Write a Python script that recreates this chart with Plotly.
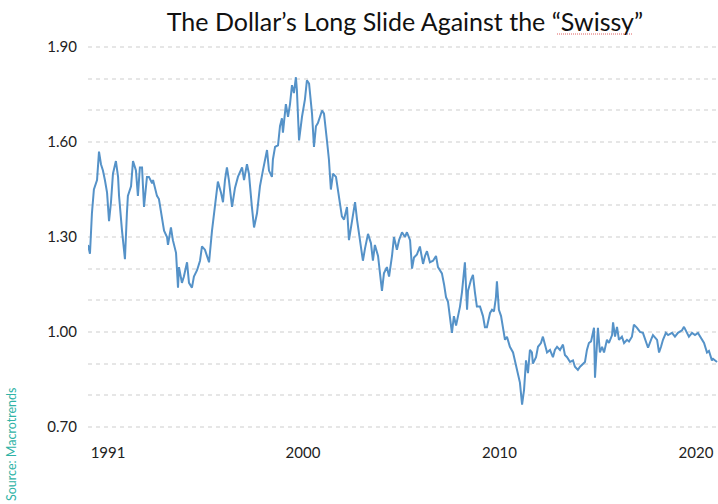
import plotly.graph_objects as go

# Decimal-year positions and USD/CHF values
years = [
    1989.06, 1989.16, 1989.26, 1989.36, 1989.52, 1989.62, 1989.72, 1989.82, 1989.92, 1990.03,
    1990.13, 1990.23, 1990.33, 1990.48, 1990.59, 1990.64, 1990.79, 1990.89, 1990.94, 1991.04,
    1991.09, 1991.25, 1991.35, 1991.50, 1991.60, 1991.70, 1991.81, 1991.91, 1992.06, 1992.16,
    1992.32, 1992.37, 1992.57, 1992.67, 1992.82, 1992.93, 1993.08, 1993.13, 1993.28, 1993.38,
    1993.54, 1993.64, 1993.69, 1993.84, 1993.94, 1994.10, 1994.20, 1994.35, 1994.45, 1994.61,
    1994.76, 1994.86, 1995.01, 1995.11, 1995.22, 1995.37, 1995.52, 1995.57, 1995.67, 1995.83,
    1995.93, 1996.03, 1996.13, 1996.23, 1996.39, 1996.54, 1996.69, 1996.90, 1997.00, 1997.15,
    1997.25, 1997.40, 1997.51, 1997.66, 1997.81, 1997.96, 1998.17, 1998.27, 1998.42, 1998.47,
    1998.58, 1998.73, 1998.83, 1998.93, 1998.98, 1999.13, 1999.24, 1999.34, 1999.44, 1999.54,
    1999.64, 1999.69, 1999.80, 1999.95, 2000.10, 2000.20, 2000.31, 2000.46, 2000.56, 2000.66,
    2000.76, 2000.97, 2001.07, 2001.22, 2001.32, 2001.42, 2001.53, 2001.68, 2001.78, 2001.98,
    2002.09, 2002.24, 2002.34, 2002.49, 2002.65, 2002.75, 2002.90, 2003.05, 2003.16, 2003.31,
    2003.46, 2003.56, 2003.66, 2003.82, 2004.02, 2004.12, 2004.27, 2004.38, 2004.53, 2004.63,
    2004.78, 2004.89, 2005.04, 2005.19, 2005.29, 2005.45, 2005.55, 2005.65, 2005.80, 2005.95,
    2006.11, 2006.21, 2006.31, 2006.46, 2006.62, 2006.77, 2006.87, 2007.07, 2007.18, 2007.28,
    2007.38, 2007.53, 2007.58, 2007.68, 2007.79, 2007.89, 2007.99, 2008.09, 2008.14, 2008.24,
    2008.35, 2008.40, 2008.55, 2008.65, 2008.75, 2008.85, 2009.01, 2009.16, 2009.26, 2009.36,
    2009.52, 2009.62, 2009.72, 2009.82, 2009.87, 2009.97, 2010.08, 2010.18, 2010.28, 2010.38,
    2010.53, 2010.69, 2010.79, 2010.94, 2011.04, 2011.15, 2011.25, 2011.35, 2011.45, 2011.55,
    2011.65, 2011.70, 2011.86, 2011.96, 2012.11, 2012.21, 2012.32, 2012.42, 2012.57, 2012.72,
    2012.82, 2012.93, 2013.08, 2013.23, 2013.33, 2013.44, 2013.59, 2013.74, 2013.84, 2013.99,
    2014.10, 2014.20, 2014.35, 2014.45, 2014.55, 2014.66, 2014.76, 2014.81, 2014.86, 2014.96,
    2015.01, 2015.11, 2015.22, 2015.32, 2015.47, 2015.57, 2015.73, 2015.78, 2015.88, 2015.98,
    2016.08, 2016.23, 2016.34, 2016.49, 2016.59, 2016.74, 2016.84, 2017.00, 2017.15, 2017.30,
    2017.46, 2017.56, 2017.71, 2017.81, 2018.02, 2018.12, 2018.22, 2018.32, 2018.47, 2018.58,
    2018.78, 2018.93, 2019.08, 2019.29, 2019.39, 2019.54, 2019.64, 2019.80, 2019.95, 2020.10,
    2020.31, 2020.41, 2020.56, 2020.66, 2020.81, 2020.87, 2021.07,
]

usd_chf = [
    1.275, 1.247, 1.375, 1.45, 1.48, 1.57, 1.53, 1.51, 1.48, 1.44,
    1.35, 1.41, 1.50, 1.54, 1.49, 1.43, 1.32, 1.26, 1.23, 1.375,
    1.43, 1.46, 1.54, 1.51, 1.43, 1.52, 1.52, 1.395, 1.49, 1.49,
    1.47, 1.48, 1.43, 1.42, 1.355, 1.32, 1.30, 1.275, 1.33, 1.29,
    1.25, 1.14, 1.205, 1.155, 1.175, 1.22, 1.155, 1.14, 1.175, 1.195,
    1.225, 1.27, 1.26, 1.24, 1.22, 1.32, 1.395, 1.41, 1.475, 1.44,
    1.41, 1.48, 1.52, 1.48, 1.395, 1.455, 1.49, 1.52, 1.48, 1.53,
    1.50, 1.395, 1.33, 1.375, 1.46, 1.51, 1.575, 1.51, 1.49, 1.545,
    1.585, 1.59, 1.65, 1.675, 1.63, 1.72, 1.68, 1.72, 1.78, 1.755,
    1.805, 1.765, 1.605, 1.68, 1.735, 1.795, 1.785, 1.69, 1.585, 1.65,
    1.66, 1.70, 1.69, 1.605, 1.545, 1.45, 1.50, 1.49, 1.45, 1.365,
    1.355, 1.395, 1.29, 1.355, 1.41, 1.355, 1.29, 1.225, 1.265, 1.31,
    1.28, 1.225, 1.275, 1.24, 1.13, 1.185, 1.205, 1.175, 1.24, 1.30,
    1.26, 1.29, 1.315, 1.30, 1.315, 1.29, 1.20, 1.235, 1.245, 1.27,
    1.215, 1.24, 1.255, 1.22, 1.225, 1.24, 1.205, 1.185, 1.15, 1.11,
    1.095, 1.03, 0.997, 1.05, 1.02, 1.05, 1.08, 1.125, 1.155, 1.22,
    1.07, 1.13, 1.165, 1.18, 1.125, 1.08, 1.08, 1.05, 1.015, 1.015,
    1.06, 1.07, 1.065, 1.11, 1.16, 1.07, 1.05, 1.005, 0.975, 0.985,
    0.953, 0.935, 0.91, 0.87, 0.84, 0.77, 0.817, 0.91, 0.87, 0.943,
    0.935, 0.90, 0.92, 0.953, 0.965, 0.985, 0.953, 0.935, 0.943, 0.92,
    0.943, 0.953, 0.943, 0.96, 0.927, 0.92, 0.905, 0.91, 0.89, 0.88,
    0.89, 0.895, 0.905, 0.943, 0.965, 0.97, 0.997, 1.013, 0.855, 0.953,
    1.013, 0.935, 0.953, 0.935, 0.975, 0.965, 0.99, 1.03, 0.985, 1.016,
    0.975, 0.985, 0.965, 0.975, 0.97, 0.985, 1.023, 1.013, 1.00, 0.997,
    0.965, 0.95, 0.975, 0.99, 0.975, 0.935, 0.953, 0.975, 0.997, 0.99,
    0.997, 0.985, 0.997, 1.005, 1.016, 0.997, 0.985, 0.997, 0.99, 0.997,
    0.975, 0.965, 0.935, 0.94, 0.91, 0.915, 0.905,
]

x_tick_vals = [1990.08, 2000.0, 2010.0, 2020.0]
x_tick_text = ["1991", "2000", "2010", "2020"]

y_tick_vals = [0.70, 0.80, 0.90, 1.00, 1.10, 1.20, 1.30, 1.40, 1.50, 1.60, 1.70, 1.80, 1.90]
y_tick_text = ["0.70", "", "", "1.00", "", "", "1.30", "", "", "1.60", "", "", "1.90"]

title_text = "The Dollar\u2019s Long Slide Against the \u201cSwissy\u201d"
source_text = "Source: Macrotrends"

FONT = "Lato"

fig = go.Figure()
fig.add_trace(go.Scatter(
    x=years, y=usd_chf, mode="lines",
    line=dict(color="#5592c8", width=2),
    hoverinfo="x+y", showlegend=False,
))

fig.update_layout(
    width=718, height=504,
    margin=dict(l=88, r=0, t=44, b=74),
    paper_bgcolor="white", plot_bgcolor="white",
    font=dict(family=FONT, color="#222222"),
    title=dict(
        text=title_text, x=0.564, xanchor="center", y=0.956, yanchor="middle",
        font=dict(family=FONT, size=25, color="#111111"),
    ),
    xaxis=dict(
        range=[1989.06, 2021.12],
        tickvals=x_tick_vals, ticktext=x_tick_text,
        showgrid=False, zeroline=False, showline=False,
        ticks="", ticklabelstandoff=12,
        tickfont=dict(family=FONT, size=15, color="#222222"),
    ),
    yaxis=dict(
        range=[0.69, 1.91],
        tickvals=y_tick_vals, ticktext=y_tick_text,
        showgrid=True, gridcolor="#e6e6e6", gridwidth=1.5, griddash="4px,4px",
        zeroline=False, showline=False, ticks="", ticklabelstandoff=10,
        tickfont=dict(family=FONT, size=15, color="#222222"),
    ),
    annotations=[dict(
        text=source_text, xref="paper", yref="paper",
        x=-76 / 630, y=(504 - 444 - 74) / 386, xanchor="center", yanchor="middle",
        textangle=-90, showarrow=False,
        font=dict(family=FONT, size=12.5, color="#2fb3a6"),
    )],
    shapes=[dict(
        type="line", xref="paper", yref="paper",
        x0=(557 - 88) / 630, x1=(633 - 88) / 630,
        y0=(504 - 74 - 34) / 386, y1=(504 - 74 - 34) / 386,
        line=dict(color="#e06060", width=1, dash="1px,1px"),
    )],
)

fig.write_html("out.html")
